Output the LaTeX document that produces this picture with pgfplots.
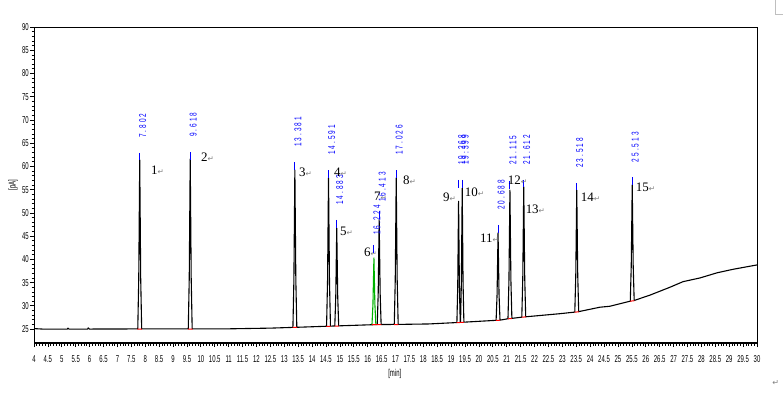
\documentclass[border=0pt]{standalone}
\usepackage{pgfplots}
\pgfplotsset{compat=1.18}
\usepackage{fontspec}
\setmainfont{Liberation Serif}
\newfontfamily\narrowfont[FakeStretch=0.6]{Liberation Sans}
\newfontfamily\rtfont[FakeStretch=0.65,LetterSpace=20]{Liberation Sans}
\newfontfamily\symfont{DejaVu Sans}
\newcommand{\rt}[1]{{\rtfont\fontsize{10}{10}\selectfont #1}}
\newcommand{\pk}[1]{{\fontsize{13}{13}\selectfont #1}{\color{gray}\symfont\fontsize{7.5}{7.5}\selectfont ↵}}

\pgfplotstableread{
t y
4 25.1
4.3 25.0
5.2 25.0
5.22 25.2
5.26 25.0
5.93 25.0
5.95 25.25
5.99 25.0
7.732 25.03
7.767 35.9
7.802 61.4
7.837 35.9
7.872 25.03
9.548 25.04
9.583 36.0
9.618 61.6
9.653 36.0
9.688 25.04
11 25.05
12.5 25.2
13.311 25.36
13.346 35.5
13.381 59.2
13.416 35.5
13.451 25.38
14.5 25.6
14.521 25.61
14.556 35.2
14.591 57.5
14.626 35.2
14.661 25.63
14.817 25.67
14.852 32.0
14.887 46.7
14.922 32.0
14.957 25.69
16.343 25.97
16.378 32.7
16.413 48.5
16.448 32.7
16.483 25.97
16.956 26.0
16.991 35.5
17.026 57.5
17.061 35.5
17.096 26.0
18.2 26.1
19.208 26.4
19.238 34.2
19.268 52.5
19.298 34.2
19.328 26.44
19.339 26.45
19.369 35.1
19.399 55.3
19.429 35.1
19.459 26.48
20.618 26.88
20.653 32.5
20.688 45.7
20.723 32.5
20.758 26.92
21.045 27.22
21.08 35.5
21.115 54.9
21.15 35.5
21.185 27.3
21.542 27.56
21.577 36.0
21.612 55.6
21.647 36.0
21.682 27.64
22.9 28.3
23.448 28.65
23.483 36.6
23.518 54.9
23.553 36.6
23.588 28.75
24.35 29.7
24.7 29.9
25.443 31.0
25.478 38.6
25.513 56.0
25.548 38.6
25.583 31.15
26.15 32.3
26.87 34.0
27.34 35.2
27.95 36.0
28.56 37.1
29.13 37.85
30 38.8
}\signal

\pgfplotstableread{
t y
16.154 25.95
16.189 30.3
16.224 40.3
16.259 30.3
16.294 25.96
}\greenpeak

\pgfplotstableread{
t y
7.72 25.0
7.88 25.0
nan nan
9.54 25.0
9.70 25.0
nan nan
13.30 25.35
13.46 25.35
nan nan
14.51 25.6
14.67 25.6
nan nan
14.81 25.65
14.96 25.65
nan nan
16.15 25.93
16.49 25.95
nan nan
16.95 25.98
17.10 25.98
nan nan
19.20 26.38
19.46 26.45
nan nan
20.61 26.85
20.76 26.9
nan nan
21.04 27.2
21.19 27.28
nan nan
21.54 27.55
21.69 27.62
nan nan
23.44 28.62
23.59 28.72
nan nan
25.44 31.0
25.59 31.1
}\redmarks

\pgfplotstableread{
t y
7.802 62.9
7.802 61.4
nan nan
9.618 63.1
9.618 61.4
nan nan
13.381 60.9
13.381 59.2
nan nan
14.591 59.2
14.591 57.5
nan nan
14.887 48.5
14.887 46.7
nan nan
16.224 43.1
16.224 41.4
nan nan
16.413 50.4
16.413 48.7
nan nan
17.026 59.2
17.026 57.5
nan nan
19.268 57.1
19.268 55.3
nan nan
19.399 57.1
19.399 55.3
nan nan
20.688 47.4
20.688 45.7
nan nan
21.115 56.9
21.115 55.1
nan nan
21.612 57.1
21.612 55.6
nan nan
23.518 56.4
23.518 54.9
nan nan
25.513 57.7
25.513 56.0
}\bluemarks

\begin{document}
\begin{tikzpicture}
\begin{axis}[
  name=ax,
  at={(0,0)}, anchor=south west,
  scale only axis, width=723bp, height=316bp,
  xmin=4, xmax=30, ymin=22, ymax=90,
  xtick={4,4.5,...,30}, minor x tick num=4,
  ytick={25,30,...,90}, minor y tick num=4,
  xtick pos=bottom, ytick pos=left,
  tick align=outside,
  major tick length=4bp, minor tick length=2.5bp,
  tick style={black, line width=0.7bp},
  axis line style={line width=0.9bp},
  /pgf/number format/assume math mode=true,
  xticklabel style={font=\narrowfont\fontsize{10}{10}\selectfont, yshift=-5bp},
  yticklabel style={font=\narrowfont\fontsize{10}{10}\selectfont, inner sep=1bp},
  xlabel={[min]},
  xlabel style={at={(axis description cs:0.499,-0.098)}, anchor=center, font=\narrowfont\fontsize{10}{10}\selectfont},
  ylabel={[pA]},
  ylabel style={at={(axis description cs:-0.029,0.5)}, anchor=center, rotate=0, font=\narrowfont\fontsize{10}{10}\selectfont},
  clip=false,
  unbounded coords=jump,
]
\addplot[black, line width=1.1bp, line join=round, no markers] table[x=t,y=y] {\signal};
\addplot[green!70!black, line width=1.1bp, line join=round, no markers] table[x=t,y=y] {\greenpeak};
\addplot[red, line width=1bp, no markers] table[x=t,y=y] {\redmarks};
\addplot[blue, line width=1.1bp, no markers] table[x=t,y=y] {\bluemarks};

% retention time labels
\begin{scope}[every node/.style={rotate=90, anchor=west, inner sep=0pt, text=blue}]
\node at (axis cs:7.912,66.1) {\rt{7.802}};
\node at (axis cs:9.728,66.3) {\rt{9.618}};
\node at (axis cs:13.491,64.2) {\rt{13.381}};
\node at (axis cs:14.701,62.45) {\rt{14.591}};
\node at (axis cs:14.997,51.7) {\rt{14.883}};
\node at (axis cs:16.334,45.2) {\rt{16.224}};
\node at (axis cs:16.523,52.3) {\rt{16.413}};
\node at (axis cs:17.136,62.45) {\rt{17.026}};
\node at (axis cs:19.378,60.3) {\rt{19.268}};
\node at (axis cs:19.509,60.3) {\rt{19.399}};
\node at (axis cs:20.798,50.6) {\rt{20.688}};
\node at (axis cs:21.225,60.3) {\rt{21.115}};
\node at (axis cs:21.722,60.3) {\rt{21.612}};
\node at (axis cs:23.628,59.65) {\rt{23.518}};
\node at (axis cs:25.623,60.9) {\rt{25.513}};
\end{scope}

% peak numbers
\begin{scope}[every node/.style={anchor=center, inner sep=0pt}]
\node at (axis cs:8.44,59.2) {\pk{1}};
\node at (axis cs:10.24,62.0) {\pk{2}};
\node at (axis cs:13.76,58.8) {\pk{3}};
\node at (axis cs:15.02,58.8) {\pk{4}};
\node at (axis cs:15.24,46.1) {\pk{5}};
\node at (axis cs:16.10,41.6) {\pk{6}};
\node at (axis cs:16.46,53.6) {\pk{7}};
\node at (axis cs:17.50,57.1) {\pk{8}};
\node at (axis cs:18.94,53.4) {\pk{9}};
\node at (axis cs:19.84,54.5) {\pk{10}};
\node at (axis cs:20.38,44.6) {\pk{11}};
\node at (axis cs:21.39,57.1) {\pk{12}};
\node at (axis cs:22.03,50.8) {\pk{13}};
\node at (axis cs:24.01,53.4) {\pk{14}};
\node at (axis cs:25.99,55.6) {\pk{15}};
\end{scope}

\draw[black, line width=1.8bp] (rel axis cs:0,0) -- (rel axis cs:1,0);
\draw[gray!50, line width=0.6bp] (axis description cs:1.0249,1.0854) -- (axis description cs:1.0249,1.0411) -- (axis description cs:1.036,1.0411);
\node[text=gray, inner sep=0pt] at (axis description cs:1.026,-0.1266) {\symfont\fontsize{8}{8}\selectfont ↵};
\end{axis}
\pgfresetboundingbox
\path[use as bounding box] ([xshift=-34bp,yshift=-50bp]ax.south west) rectangle ([xshift=26bp,yshift=27bp]ax.north east);
\end{tikzpicture}
\end{document}
